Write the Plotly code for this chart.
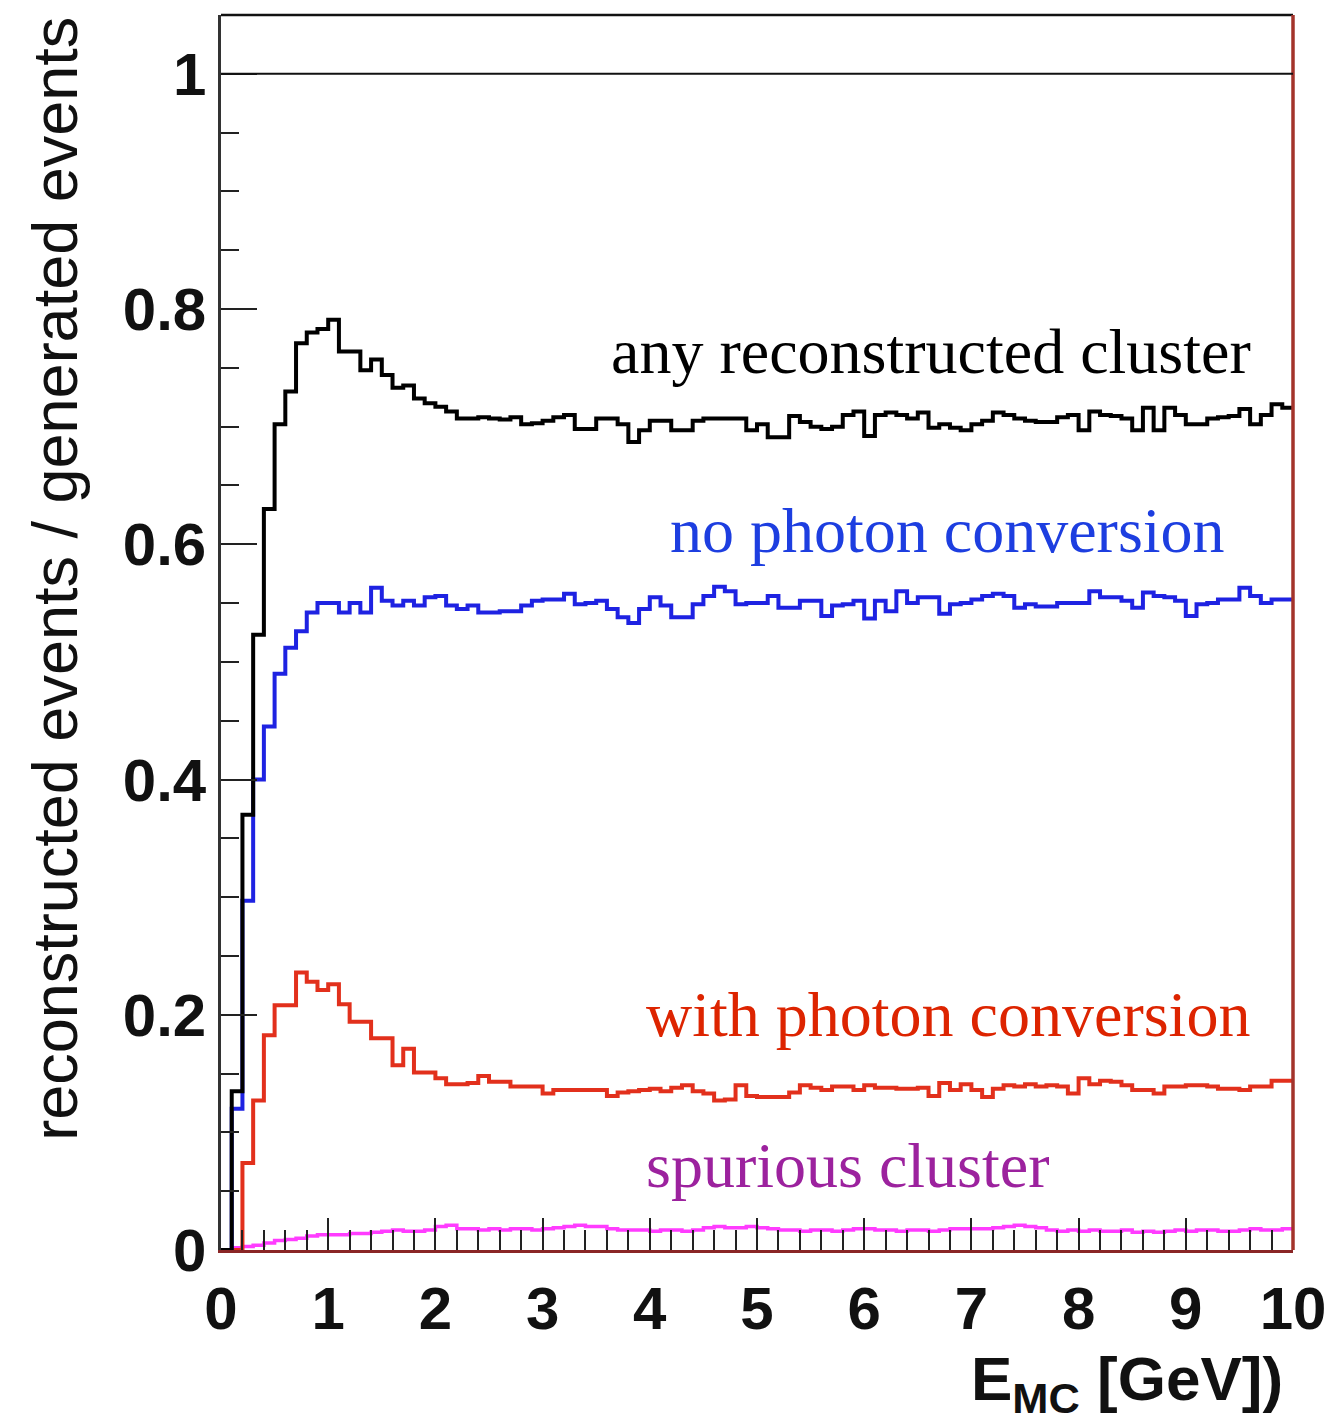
import numpy as np
import plotly.graph_objects as go

# Bin edges: 100 bins of 0.1 GeV from 0 to 10 GeV
edges = np.round(np.arange(0, 10.0001, 0.1), 2)

any_cluster = [
    0.0, 0.135, 0.37, 0.523, 0.630, 0.702, 0.730, 0.771, 0.780, 0.783,
    0.791, 0.764, 0.764, 0.748, 0.757, 0.744, 0.733, 0.735, 0.724, 0.720,
    0.717, 0.713, 0.707, 0.707, 0.708, 0.707, 0.706, 0.708, 0.702, 0.703,
    0.705, 0.708, 0.710, 0.698, 0.698, 0.707, 0.707, 0.702, 0.687, 0.697,
    0.705, 0.705, 0.697, 0.697, 0.705, 0.707, 0.707, 0.707, 0.707, 0.697,
    0.702, 0.691, 0.691, 0.709, 0.704, 0.700, 0.698, 0.700, 0.710, 0.713,
    0.692, 0.710, 0.712, 0.710, 0.707, 0.712, 0.699, 0.702, 0.699, 0.697,
    0.702, 0.705, 0.712, 0.710, 0.707, 0.705, 0.704, 0.704, 0.708, 0.710,
    0.697, 0.713, 0.710, 0.709, 0.707, 0.697, 0.716, 0.697, 0.716, 0.710,
    0.702, 0.702, 0.707, 0.708, 0.709, 0.715, 0.702, 0.710, 0.719, 0.716,
]

no_conversion = [
    0.0, 0.12, 0.297, 0.40, 0.445, 0.49, 0.512, 0.526, 0.542, 0.550,
    0.550, 0.542, 0.550, 0.542, 0.563, 0.552, 0.548, 0.552, 0.548, 0.555,
    0.556, 0.548, 0.545, 0.548, 0.542, 0.542, 0.543, 0.543, 0.548, 0.552,
    0.553, 0.553, 0.558, 0.549, 0.550, 0.552, 0.545, 0.538, 0.533, 0.545,
    0.555, 0.548, 0.538, 0.538, 0.549, 0.556, 0.564, 0.560, 0.549, 0.550,
    0.550, 0.556, 0.546, 0.546, 0.552, 0.552, 0.539, 0.548, 0.549, 0.552,
    0.537, 0.552, 0.543, 0.560, 0.550, 0.555, 0.555, 0.541, 0.549, 0.550,
    0.553, 0.556, 0.558, 0.556, 0.546, 0.549, 0.547, 0.547, 0.550, 0.550,
    0.550, 0.560, 0.555, 0.555, 0.552, 0.546, 0.559, 0.556, 0.555, 0.552,
    0.539, 0.549, 0.550, 0.553, 0.553, 0.563, 0.556, 0.550, 0.553, 0.553,
]

with_conversion = [
    0.0, 0.0, 0.074, 0.127, 0.1825, 0.208, 0.208, 0.236, 0.228, 0.221,
    0.226, 0.209, 0.194, 0.194, 0.180, 0.180, 0.157, 0.171, 0.151, 0.151,
    0.146, 0.141, 0.141, 0.142, 0.148, 0.143, 0.143, 0.139, 0.139, 0.139,
    0.133, 0.136, 0.136, 0.136, 0.136, 0.136, 0.131, 0.134, 0.135, 0.136,
    0.137, 0.135, 0.138, 0.140, 0.135, 0.133, 0.127, 0.128, 0.140, 0.131,
    0.130, 0.130, 0.130, 0.134, 0.140, 0.138, 0.136, 0.139, 0.139, 0.136,
    0.140, 0.138, 0.138, 0.137, 0.137, 0.138, 0.131, 0.142, 0.136, 0.141,
    0.136, 0.130, 0.137, 0.140, 0.139, 0.141, 0.139, 0.140, 0.139, 0.133,
    0.146, 0.141, 0.144, 0.143, 0.140, 0.136, 0.136, 0.133, 0.139, 0.139,
    0.140, 0.140, 0.139, 0.137, 0.137, 0.136, 0.139, 0.139, 0.144, 0.144,
]

spurious = [
    0.0, 0.002, 0.003, 0.004, 0.006, 0.008, 0.009, 0.010, 0.012, 0.013,
    0.013, 0.013, 0.014, 0.014, 0.015, 0.016, 0.017, 0.016, 0.016, 0.017,
    0.020, 0.021, 0.018, 0.018, 0.017, 0.018, 0.017, 0.018, 0.018, 0.017,
    0.018, 0.019, 0.020, 0.021, 0.020, 0.020, 0.018, 0.017, 0.017, 0.017,
    0.016, 0.017, 0.017, 0.016, 0.017, 0.019, 0.020, 0.019, 0.019, 0.020,
    0.019, 0.018, 0.017, 0.017, 0.016, 0.017, 0.017, 0.016, 0.017, 0.018,
    0.018, 0.017, 0.017, 0.016, 0.017, 0.017, 0.016, 0.017, 0.018, 0.018,
    0.018, 0.018, 0.019, 0.020, 0.021, 0.020, 0.019, 0.017, 0.016, 0.017,
    0.016, 0.017, 0.016, 0.016, 0.017, 0.015, 0.016, 0.015, 0.016, 0.017,
    0.016, 0.017, 0.017, 0.016, 0.016, 0.017, 0.018, 0.017, 0.017, 0.018,
]

x_ticks = list(range(0, 11))
y_ticks = [0, 0.2, 0.4, 0.6, 0.8, 1]
y_tick_text = ["0", "0.2", "0.4", "0.6", "0.8", "1"]

series = [
    (spurious, "#ff3cff", 3.5),
    (with_conversion, "#e2301c", 4.0),
    (no_conversion, "#1e22e2", 4.0),
    (any_cluster, "#000000", 4.0),
]

fig = go.Figure()
for vals, color, width in series:
    # step histogram: each bin value held from its left edge to the next edge
    fig.add_trace(go.Scatter(
        x=list(edges),
        y=list(vals) + [vals[-1]],
        mode="lines",
        line=dict(color=color, width=width, shape="hv"),
        showlegend=False,
        hoverinfo="skip",
    ))

tick_font = dict(family="Liberation Sans", size=60, color="#111111")

fig.update_layout(
    width=1343, height=1424,
    margin=dict(l=221, r=50, t=15, b=174),
    paper_bgcolor="white", plot_bgcolor="white",
    xaxis=dict(
        range=[0, 10], tickvals=x_ticks, ticktext=[f"<b>{v}</b>" for v in x_ticks],
        ticks="inside", ticklen=32, tickwidth=2, tickcolor="#222222",
        minor=dict(ticks="inside", ticklen=20, tickwidth=2, tickcolor="#222222",
                   dtick=0.2, tick0=0, showgrid=False),
        showline=True, linecolor="#8a2626", linewidth=3,
        showgrid=False, zeroline=False, tickfont=tick_font,
        ticklabelstandoff=4,
    ),
    yaxis=dict(
        range=[0, 1.05], tickvals=y_ticks, ticktext=[f"<b>{t}</b>" for t in y_tick_text],
        ticks="inside", ticklen=36, tickwidth=2, tickcolor="#222222",
        minor=dict(ticks="inside", ticklen=18, tickwidth=2, tickcolor="#222222",
                   dtick=0.05, tick0=0, showgrid=False),
        showline=True, linecolor="#333333", linewidth=2.5,
        showgrid=False, zeroline=False, tickfont=tick_font,
        ticklabelstandoff=0,
    ),
)

# Frame: top border, right border and the unit-efficiency reference line
fig.add_shape(type="line", xref="paper", yref="paper", x0=0, x1=1, y0=1, y1=1,
              line=dict(color="#111111", width=2.5))
fig.add_shape(type="line", xref="paper", yref="paper", x0=1, x1=1, y0=0, y1=1,
              line=dict(color="#a3332b", width=3.5))
fig.add_shape(type="line", xref="x", yref="y", x0=0, x1=10, y0=1, y1=1,
              line=dict(color="#111111", width=2))

# Axis titles
fig.add_annotation(
    text="reconstructed events / generated events", textangle=-90,
    xref="paper", yref="paper", x=-0.155, y=1.0, xanchor="center", yanchor="top",
    showarrow=False, font=dict(family="Liberation Sans", size=63, color="#111111"),
)
fig.add_annotation(
    text="<b>E<sub>MC</sub> [GeV])</b>",
    xref="paper", yref="paper", x=0.993, y=-0.108, xanchor="right", yanchor="middle",
    showarrow=False, font=dict(family="Liberation Sans", size=62, color="#111111"),
)

# Curve labels
serif = "Liberation Serif"
labels = [
    ("any reconstructed cluster", 9.63, 0.764, "#000000"),
    ("no photon conversion", 9.38, 0.612, "#1d3ee0"),
    ("with photon conversion", 9.62, 0.200, "#dd2400"),
    ("spurious cluster", 7.75, 0.072, "#9c229e"),
]
for text, x, y, color in labels:
    fig.add_annotation(text=text, x=x, y=y, xref="x", yref="y",
                       xanchor="right", yanchor="middle", showarrow=False,
                       font=dict(family=serif, size=64, color=color))

fig.write_html("out.html")
